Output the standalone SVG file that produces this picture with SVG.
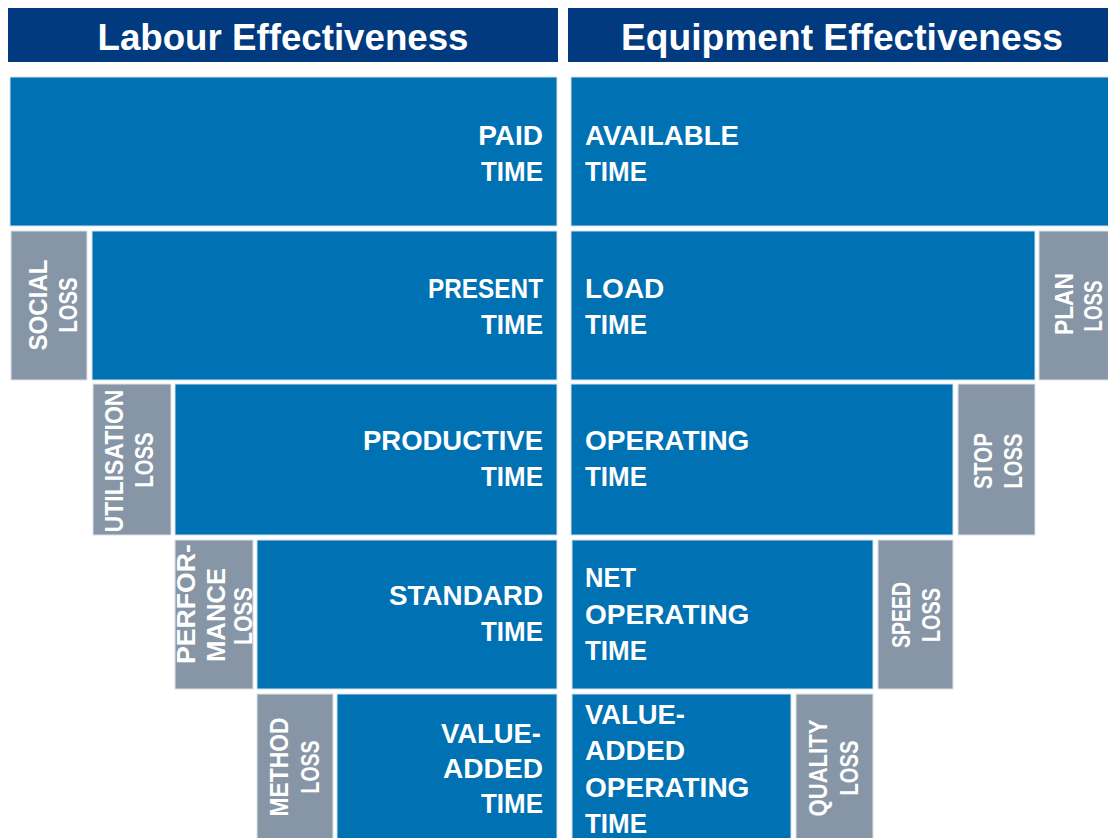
<svg xmlns="http://www.w3.org/2000/svg" width="1108" height="838" viewBox="0 0 1108 838">
<style>
.hdr{fill:#013A7E}
.main{fill:#0071B3;stroke:#D4E2EE;stroke-width:1}
.loss{fill:#8796A6;stroke:#DCE3EA;stroke-width:1}
.ht{font-family:"Liberation Sans",Arial,sans-serif;font-weight:bold;font-size:36px;fill:#fff;text-anchor:middle}
.mt{font-family:"Liberation Sans",Arial,sans-serif;font-weight:bold;font-size:28px;fill:#fff}
.r{text-anchor:end}
.l{text-anchor:start}
.lt{font-family:"Liberation Sans",Arial,sans-serif;font-weight:bold;font-size:25px;fill:#fff;text-anchor:middle}
</style>
<rect width="1108" height="838" fill="#fff"/>
<g id="hdr-labour"><rect class="hdr" x="8" y="8" width="550" height="54"/><text class="ht" x="283" y="50" textLength="371" lengthAdjust="spacingAndGlyphs">Labour Effectiveness</text></g>
<g id="hdr-equipment"><rect class="hdr" x="568" y="8" width="548" height="54"/><text class="ht" x="842" y="50" textLength="442" lengthAdjust="spacingAndGlyphs">Equipment Effectiveness</text></g>

<g id="paid-time"><rect class="main" x="10" y="77" width="547" height="149"/><text class="mt r" x="543" y="145">PAID</text><text class="mt r" x="543" y="181" textLength="62" lengthAdjust="spacingAndGlyphs">TIME</text></g>
<g id="social-loss"><rect class="loss" x="11" y="231" width="76" height="149"/><text class="lt" transform="translate(47,305) rotate(-90)" textLength="91" lengthAdjust="spacingAndGlyphs">SOCIAL</text><text class="lt" transform="translate(77,305) rotate(-90)" textLength="55" lengthAdjust="spacingAndGlyphs">LOSS</text></g>
<g id="present-time"><rect class="main" x="92" y="231" width="465" height="149"/><text class="mt r" x="543" y="298" textLength="115" lengthAdjust="spacingAndGlyphs">PRESENT</text><text class="mt r" x="543" y="334" textLength="62" lengthAdjust="spacingAndGlyphs">TIME</text></g>
<g id="utilisation-loss"><rect class="loss" x="93" y="384" width="78" height="151"/><text class="lt" transform="translate(123,461) rotate(-90)" textLength="143" lengthAdjust="spacingAndGlyphs">UTILISATION</text><text class="lt" transform="translate(153,460) rotate(-90)" textLength="55" lengthAdjust="spacingAndGlyphs">LOSS</text></g>
<g id="productive-time"><rect class="main" x="175" y="384" width="382" height="151"/><text class="mt r" x="543" y="450" textLength="180" lengthAdjust="spacingAndGlyphs">PRODUCTIVE</text><text class="mt r" x="543" y="486" textLength="62" lengthAdjust="spacingAndGlyphs">TIME</text></g>
<g id="performance-loss"><rect class="loss" x="175" y="540" width="78" height="149"/><text class="lt" transform="translate(195,604) rotate(-90)" textLength="120" lengthAdjust="spacingAndGlyphs">PERFOR-</text><text class="lt" transform="translate(225,615) rotate(-90)" textLength="94" lengthAdjust="spacingAndGlyphs">MANCE</text><text class="lt" transform="translate(252,616) rotate(-90)" textLength="58" lengthAdjust="spacingAndGlyphs">LOSS</text></g>
<g id="standard-time"><rect class="main" x="257" y="540" width="300" height="149"/><text class="mt r" x="543" y="605" textLength="154" lengthAdjust="spacingAndGlyphs">STANDARD</text><text class="mt r" x="543" y="641" textLength="62" lengthAdjust="spacingAndGlyphs">TIME</text></g>
<g id="method-loss"><rect class="loss" x="257" y="694" width="76" height="152"/><text class="lt" transform="translate(288,767) rotate(-90)" textLength="99" lengthAdjust="spacingAndGlyphs">METHOD</text><text class="lt" transform="translate(319,767) rotate(-90)" textLength="53" lengthAdjust="spacingAndGlyphs">LOSS</text></g>
<g id="value-added-time"><rect class="main" x="337" y="694" width="220" height="152"/><text class="mt r" x="541" y="743" textLength="100" lengthAdjust="spacingAndGlyphs">VALUE-</text><text class="mt r" x="543" y="778" textLength="100" lengthAdjust="spacingAndGlyphs">ADDED</text><text class="mt r" x="543" y="813" textLength="62" lengthAdjust="spacingAndGlyphs">TIME</text></g>

<g id="available-time"><rect class="main" x="571" y="77" width="545" height="149"/><text class="mt l" x="585" y="145" textLength="154" lengthAdjust="spacingAndGlyphs">AVAILABLE</text><text class="mt l" x="585" y="181" textLength="62" lengthAdjust="spacingAndGlyphs">TIME</text></g>
<g id="load-time"><rect class="main" x="571" y="231" width="464" height="149"/><text class="mt l" x="585" y="298">LOAD</text><text class="mt l" x="585" y="334" textLength="62" lengthAdjust="spacingAndGlyphs">TIME</text></g>
<g id="plan-loss"><rect class="loss" x="1039" y="231" width="80" height="149"/><text class="lt" transform="translate(1073,304) rotate(-90)" textLength="62" lengthAdjust="spacingAndGlyphs">PLAN</text><text class="lt" transform="translate(1102,306) rotate(-90)" textLength="51" lengthAdjust="spacingAndGlyphs">LOSS</text></g>
<g id="operating-time"><rect class="main" x="571" y="384" width="382" height="151"/><text class="mt l" x="585" y="450">OPERATING</text><text class="mt l" x="585" y="486" textLength="62" lengthAdjust="spacingAndGlyphs">TIME</text></g>
<g id="stop-loss"><rect class="loss" x="958" y="384" width="77" height="151"/><text class="lt" transform="translate(992,461) rotate(-90)" textLength="56" lengthAdjust="spacingAndGlyphs">STOP</text><text class="lt" transform="translate(1022,461) rotate(-90)" textLength="55" lengthAdjust="spacingAndGlyphs">LOSS</text></g>
<g id="net-operating-time"><rect class="main" x="572" y="540" width="301" height="149"/><text class="mt l" x="585" y="587" textLength="51" lengthAdjust="spacingAndGlyphs">NET</text><text class="mt l" x="585" y="624">OPERATING</text><text class="mt l" x="585" y="660" textLength="62" lengthAdjust="spacingAndGlyphs">TIME</text></g>
<g id="speed-loss"><rect class="loss" x="878" y="540" width="75" height="149"/><text class="lt" transform="translate(910,615) rotate(-90)" textLength="66" lengthAdjust="spacingAndGlyphs">SPEED</text><text class="lt" transform="translate(940,615) rotate(-90)" textLength="54" lengthAdjust="spacingAndGlyphs">LOSS</text></g>
<g id="value-added-operating-time"><rect class="main" x="572" y="694" width="219" height="152"/><text class="mt l" x="585" y="724" textLength="100" lengthAdjust="spacingAndGlyphs">VALUE-</text><text class="mt l" x="585" y="760" textLength="100" lengthAdjust="spacingAndGlyphs">ADDED</text><text class="mt l" x="585" y="797">OPERATING</text><text class="mt l" x="585" y="833" textLength="62" lengthAdjust="spacingAndGlyphs">TIME</text></g>
<g id="quality-loss"><rect class="loss" x="796" y="694" width="77" height="152"/><text class="lt" transform="translate(827,768) rotate(-90)" textLength="97" lengthAdjust="spacingAndGlyphs">QUALITY</text><text class="lt" transform="translate(858,768) rotate(-90)" textLength="55" lengthAdjust="spacingAndGlyphs">LOSS</text></g>
<g id="connectors"/>
</svg>
